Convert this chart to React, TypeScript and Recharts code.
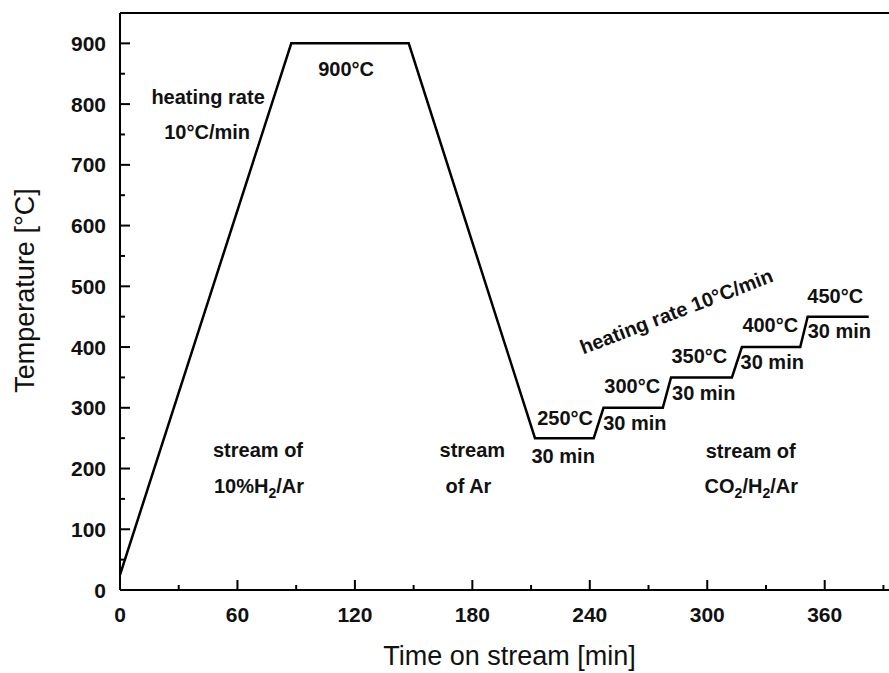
import React from "react";
import { ComposedChart, Line, Scatter, XAxis, YAxis, ReferenceLine } from "recharts";

// temperature program: time on stream [min] vs. set temperature [°C]
const times = [0, 87.5, 147.5, 212, 242, 247, 277.3, 281.5, 312.6, 317.7, 347.5, 351.3, 382.5];
const temps = [25, 900, 900, 250, 250, 300, 300, 350, 350, 400, 400, 450, 450];

const xTicks = [0, 30, 60, 90, 120, 150, 180, 210, 240, 270, 300, 330, 360, 390];
const yTicks = [0, 50, 100, 150, 200, 250, 300, 350, 400, 450, 500, 550, 600, 650, 700, 750, 800, 850, 900];

// text notes, anchored in data units (centre of baseline)
const noteTimes = [45, 44.5, 115.5, 70.5, 71, 180, 178, 226.4, 227.4, 263, 261.7, 298.2, 296, 333.2, 332.2, 367.5, 365.4, 322.2, 322.5, 285.5];
const noteTemps = [800, 743, 847, 219, 160, 219, 160, 209, 272, 263.5, 324.5, 313, 374.5, 364, 425.5, 415, 473, 217.5, 160, 448];
const noteTexts = [
  "heating rate",
  "10°C/min",
  "900°C",
  "stream of",
  "10%H_2/Ar",
  "stream",
  "of Ar",
  "30 min",
  "250°C",
  "30 min",
  "300°C",
  "30 min",
  "350°C",
  "30 min",
  "400°C",
  "30 min",
  "450°C",
  "stream of",
  "CO_2/H_2/Ar",
  "heating rate 10°C/min",
];
const SLANTED = "heating rate 10°C/min";

const data = times.map((t, i) => ({ t, temp: temps[i] }));
const notes = noteTexts.map((text, i) => ({ t: noteTimes[i], temp: noteTemps[i], text }));

const FONT = "'Liberation Sans', Arial, Helvetica, sans-serif";

function rich(text: string) {
  const parts = text.split(/(_\d)/).filter((p) => p !== "");
  let sub = false;
  return parts.map((p, i) => {
    if (p.startsWith("_")) {
      sub = true;
      return (
        <tspan key={i} dy={5} fontSize={14}>
          {p.slice(1)}
        </tspan>
      );
    }
    const dy = sub ? -5 : 0;
    sub = false;
    return (
      <tspan key={i} dy={dy}>
        {p}
      </tspan>
    );
  });
}

function XTick(props: any) {
  const { x, y, payload } = props;
  const major = payload.value % 60 === 0;
  return (
    <g>
      <line x1={x} x2={x} y1={y} y2={y - (major ? 10 : 5)} stroke="#000" strokeWidth={2} />
      {major && (
        <text x={x} y={y + 32} textAnchor="middle" fontFamily={FONT} fontWeight="bold" fontSize={21} fill="#111">
          {payload.value}
        </text>
      )}
    </g>
  );
}

function YTick(props: any) {
  const { x, y, payload } = props;
  const major = payload.value % 100 === 0;
  return (
    <g>
      <line x1={x} x2={x + (major ? 10 : 5)} y1={y} y2={y} stroke="#000" strokeWidth={2} />
      {major && (
        <text x={x - 14} y={y + 7.5} textAnchor="end" fontFamily={FONT} fontWeight="bold" fontSize={21} fill="#111">
          {payload.value}
        </text>
      )}
    </g>
  );
}

function Note(props: any) {
  const { cx, cy, payload } = props;
  if (cx == null || cy == null) return null;
  const slanted = payload.text === SLANTED;
  return (
    <text
      x={cx}
      y={cy}
      textAnchor="middle"
      fontFamily={FONT}
      fontWeight="bold"
      fontSize={20}
      fill="#111"
      transform={slanted ? `rotate(-21, ${cx}, ${cy})` : undefined}
    >
      {rich(payload.text)}
    </text>
  );
}

const yTitle = (props: any) => {
  const vb = props.viewBox || {};
  const x = vb.x + 34;
  const y = vb.y + vb.height / 2 - 11;
  return (
    <text x={x} y={y} transform={`rotate(-90, ${x}, ${y})`} textAnchor="middle" fontFamily={FONT} fontSize={27} fill="#111">
      Temperature [°C]
    </text>
  );
};

const xTitle = (props: any) => {
  const vb = props.viewBox || {};
  return (
    <text x={vb.x + vb.width / 2 - 2} y={vb.y + 75} textAnchor="middle" fontFamily={FONT} fontSize={27} fill="#111">
      Time on stream [min]
    </text>
  );
};

export default function App() {
  return (
    <div
      style={{
        position: "absolute",
        left: 0,
        top: 0,
        width: 889,
        height: 673,
        overflow: "hidden",
        background: "#fff",
      }}
    >
      <ComposedChart width={930} height={673} data={data} margin={{ top: 13, right: 27, bottom: 0, left: 0 }}>
        <XAxis
          dataKey="t"
          type="number"
          domain={[0, 400]}
          ticks={xTicks}
          interval={0}
          allowDataOverflow
          height={83}
          tickSize={0}
          tickMargin={0}
          tickLine={false}
          axisLine={{ stroke: "#000", strokeWidth: 2 }}
          tick={<XTick />}
          label={xTitle}
        />
        <YAxis
          type="number"
          domain={[0, 950]}
          ticks={yTicks}
          interval={0}
          allowDataOverflow
          width={120}
          tickSize={0}
          tickMargin={0}
          tickLine={false}
          axisLine={{ stroke: "#000", strokeWidth: 2 }}
          tick={<YTick />}
          label={yTitle}
        />
        <ReferenceLine y={950} stroke="#000" strokeWidth={2} />
        <ReferenceLine x={400} stroke="#000" strokeWidth={2} />
        <Line
          dataKey="temp"
          type="linear"
          stroke="#000"
          strokeWidth={2.5}
          dot={false}
          activeDot={false}
          isAnimationActive={false}
        />
        <Scatter data={notes} dataKey="temp" shape={<Note />} isAnimationActive={false} />
      </ComposedChart>
    </div>
  );
}
